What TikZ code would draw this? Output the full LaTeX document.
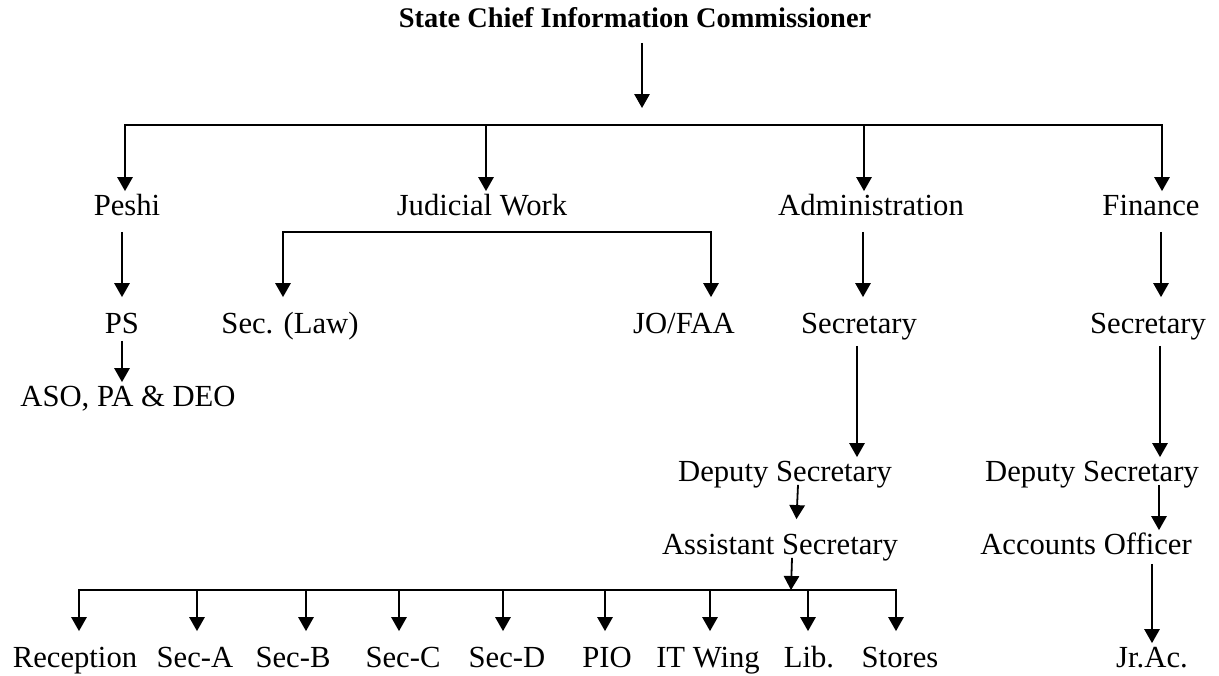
\documentclass[tikz,border=0pt]{standalone}
\usepackage{fontspec}
\setmainfont{Liberation Serif}
\usetikzlibrary{arrows.meta}

\tikzset{
  lbl/.style={inner sep=0pt, minimum height=19.5pt, text height=15.5pt, text depth=0.5pt,
    font=\fontsize{23}{27}\selectfont},
  head/.style={lbl, minimum height=37.5pt, font=\fontsize{21.3}{25}\selectfont\bfseries},
}

\begin{document}
\begin{tikzpicture}[x=0.75pt, y=-0.75pt, line width=1.35pt,
    >={Triangle[length=10.5pt,width=11.5pt]}]
    \useasboundingbox (0,0) rectangle (1219,675);

    % Kopf und erste Ebene
    \node[head] (scic) at (635,17) {State Chief Information Commissioner};
    \node[lbl] (peshi) at (127,205) {Peshi};
    \node[lbl] (judicial) at (482,205) {Judicial Work};
    \node[lbl] (admin) at (871,205) {Administration};
    \node[lbl] (finance) at (1151,205) {Finance};

    \coordinate (bar) at (642,125);
    \draw[->] (scic.south -| bar) -- ([yshift=12.75pt]bar);
    \draw[->] (bar) -| ([xshift=-1.5pt]peshi.north);
    \draw[->] (bar) -| ([xshift=3pt]judicial.north);
    \draw[->] (bar) -| ([xshift=-5.25pt]admin.north);
    \draw[->] (bar) -| ([xshift=8.25pt]finance.north);

    % zweite Ebene
    \node[lbl] (ps) at (122,323) {PS};
    \node[lbl] (seclaw) at (290,323) {Sec. (Law)};
    \node[lbl] (jofaa) at (684,323) {JO/FAA};
    \node[lbl] (adsec) at (859,323) {Secretary};
    \node[lbl] (finsec) at (1148,323) {Secretary};
    \node[lbl] (aso) at (128,396) {ASO, PA \& DEO};

    \draw[->, shorten <=9.75pt, shorten >=9pt] (peshi.south -| ps) -- (ps.north);
    \draw[->, shorten <=3pt] (ps.south) -- (aso.north -| ps);

    \coordinate (jbar) at (486,232);
    \draw[<->, shorten <=9pt, shorten >=9pt] ([xshift=-5.25pt]seclaw.north) |- (jbar)
        -| ([xshift=20.25pt]jofaa.north);

    % Verwaltung
    \node[lbl] (addep) at (785,471) {Deputy Secretary};
    \node[lbl] (asst) at (780,544) {Assistant Secretary};
    \draw[->, shorten <=9.75pt, shorten >=9pt] ([xshift=-6pt]admin.south) -- ([xshift=3pt]adsec.north);
    \draw[->, shorten <=6.75pt] ([xshift=-1.5pt]adsec.south) -- ([xshift=-1.5pt]adsec.south |- addep.north);
    \draw[->, shorten >=8.25pt] ([xshift=9.75pt]addep.south) -- ([xshift=12pt]asst.north);

    \coordinate (sbar) at (791,590);
    \draw[->] ([xshift=9pt]asst.south) -- (sbar);
    \foreach \n/\t/\cx/\dx in {rec/Reception/75/79, seca/Sec-A/195/197, secb/Sec-B/293/306,
        secc/Sec-C/403/399, secd/Sec-D/507/503, pio/PIO/607/605, itw/IT Wing/708/710,
        lib/Lib./809/808, stores/Stores/900/896}{
      \node[lbl] (\n) at (\cx,657) {\t};
      \draw[->, shorten >=9pt] (sbar) -| (\n.north -| \dx,0);
    }

    % Finanzen
    \node[lbl] (findep) at (1092,471) {Deputy Secretary};
    \node[lbl] (acct) at (1086,544) {Accounts Officer};
    \node[lbl] (jrac) at (1152,657) {Jr.Ac.};
    \draw[->, shorten <=9.75pt, shorten >=9pt] ([xshift=7.5pt]finance.south) -- ([xshift=9.75pt]finsec.north);
    \draw[->, shorten <=6.75pt] ([xshift=9pt]finsec.south) -- ([xshift=9pt]finsec.south |- findep.north);
    \draw[->] ([xshift=50.25pt]findep.south) -- ([xshift=50.25pt]findep.south |- acct.north);
    \draw[->, shorten <=4.5pt] (jrac.north |- acct.south) -- (jrac.north);
\end{tikzpicture}
\end{document}
